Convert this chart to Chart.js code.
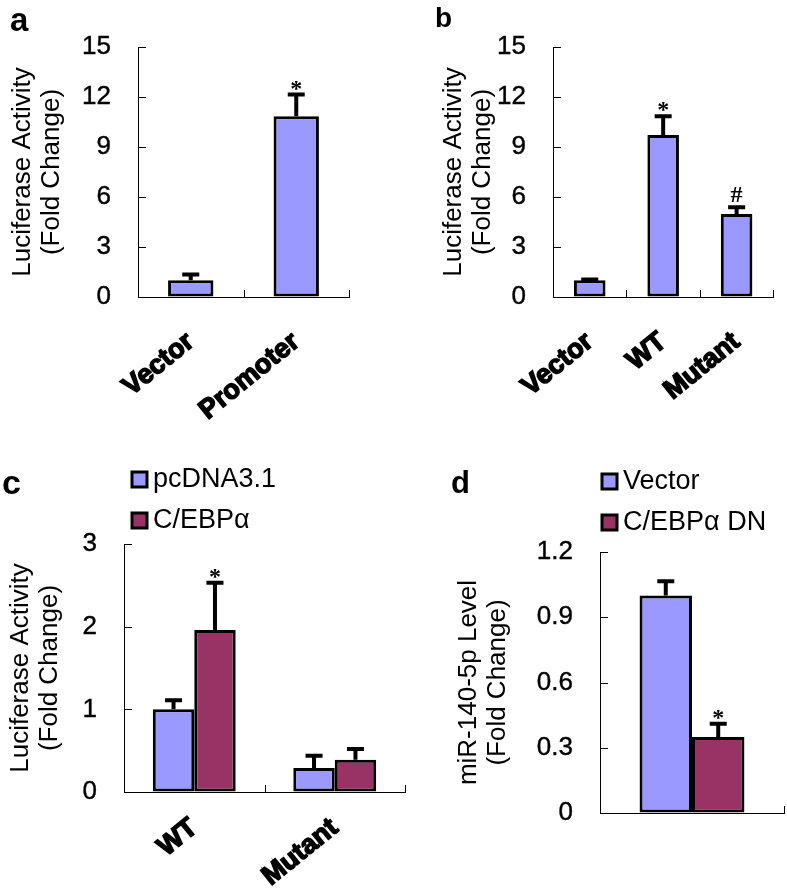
<!DOCTYPE html>
<html>
<head>
<meta charset="utf-8">
<script src="https://cdn.jsdelivr.net/npm/chart.js"></script>
<style>
  body { margin: 0; background: #fff; }
  #wrap { position: relative; width: 787px; height: 888px; }
  .panel { position: absolute; }
  .tag { position: absolute; font-family: 'Liberation Sans', Arial, sans-serif; font-weight: bold; line-height: 1; color: #000; }
</style>
</head>
<body>
<div id="wrap">
  <div class="panel" style="left:0;top:0;width:390px;height:420px"><canvas id="chartA"></canvas></div>
  <div class="panel" style="left:390px;top:0;width:397px;height:420px"><canvas id="chartB"></canvas></div>
  <div class="panel" style="left:0;top:420px;width:410px;height:468px"><canvas id="chartC"></canvas></div>
  <div class="panel" style="left:410px;top:420px;width:377px;height:468px"><canvas id="chartD"></canvas></div>
  <div class="tag" style="left:10px;top:3px;font-size:33px">a</div>
  <div class="tag" style="left:435px;top:4px;font-size:28px">b</div>
  <div class="tag" style="left:2px;top:465px;font-size:34px">c</div>
  <div class="tag" style="left:451px;top:467px;font-size:31px">d</div>
</div>
<script>
// panel a
const aCategories = ['Vector', 'Promoter'];
const aValues = [1.0, 10.85];
const aErrors = [0.35, 1.3];
const aMarks = ['', '*'];
const aTicks = ['0', '3', '6', '9', '12', '15'];

// panel b
const bCategories = ['Vector', 'WT', 'Mutant'];
const bValues = [1.0, 9.72, 4.98];
const bErrors = [0.05, 1.12, 0.4];
const bMarks = ['', '*', '#'];
const bTicks = ['0', '3', '6', '9', '12', '15'];

// panel c
const cCategories = ['WT', 'Mutant'];
const cSeries = ['pcDNA3.1', 'C/EBPα'];
const cPcdna = [1.0, 0.29];
const cPcdnaErr = [0.11, 0.15];
const cCebpa = [1.96, 0.39];
const cCebpaErr = [0.57, 0.13];
const cCebpaMarks = ['*', ''];
const cTicks = ['0', '1', '2', '3'];

// panel d
const dCategories = [''];
const dSeries = ['Vector', 'C/EBPα DN'];
const dVector = [1.0];
const dVectorErr = [0.065];
const dDn = [0.35];
const dDnErr = [0.06];
const dDnMarks = ['*'];
const dTicks = ['0', '0.3', '0.6', '0.9', '1.2'];

const blue = '#9999ff';
const plum = '#993366';
const sans = "'Liberation Sans', Arial, sans-serif";

Chart.defaults.font.family = sans;
Chart.defaults.color = '#000';

// error bars (upper half only) + significance marks
const errorBars = {
  id: 'errorBars',
  afterDatasetsDraw(chart) {
    const ctx = chart.ctx;
    const y = chart.scales.y;
    chart.data.datasets.forEach((ds, di) => {
      chart.getDatasetMeta(di).data.forEach((bar, i) => {
        const top = y.getPixelForValue(ds.data[i] + ds.errors[i]);
        ctx.save();
        ctx.strokeStyle = '#000';
        ctx.lineWidth = 4;
        ctx.beginPath();
        ctx.moveTo(bar.x, bar.y);
        ctx.lineTo(bar.x, top);
        ctx.moveTo(bar.x - 8.5, top);
        ctx.lineTo(bar.x + 8.5, top);
        ctx.stroke();
        const mark = ds.marks && ds.marks[i];
        if (mark) {
          ctx.font = 'bold 24px "Liberation Serif", "Times New Roman", serif';
          ctx.textAlign = 'center';
          ctx.textBaseline = 'alphabetic';
          ctx.fillStyle = '#000';
          const m = ctx.measureText(mark);
          ctx.fillText(mark, bar.x, top - 5 - m.actualBoundingBoxDescent);
        }
        ctx.restore();
      });
    });
  }
};

// small tick marks pointing into the plot
const innerTicks = {
  id: 'innerTicks',
  afterDraw(chart) {
    const { ctx, chartArea: area, scales: { x, y } } = chart;
    ctx.save();
    ctx.strokeStyle = '#000';
    ctx.lineWidth = 1;
    ctx.beginPath();
    y.ticks.forEach((t, i) => {
      const py = Math.round(y.getPixelForTick(i)) + 0.5;
      ctx.moveTo(area.left, py);
      ctx.lineTo(area.left + 8, py);
    });
    for (let i = 1; i <= x.ticks.length; i++) {
      const px = Math.round(x.getPixelForValue(i - 0.5)) + 0.5;
      ctx.moveTo(px, area.bottom);
      ctx.lineTo(px, area.bottom - 7);
    }
    ctx.stroke();
    ctx.restore();
  }
};

// stacked legend with boxed swatches
const boxLegend = {
  id: 'boxLegend',
  afterDraw(chart, args, opts) {
    if (opts.x === undefined) return;
    const ctx = chart.ctx;
    ctx.save();
    chart.data.datasets.forEach((ds, i) => {
      const cy = opts.y + i * opts.gap;
      ctx.fillStyle = ds.backgroundColor;
      ctx.fillRect(opts.x, cy - 7, 15, 15);
      ctx.lineWidth = 3;
      ctx.strokeStyle = '#000';
      ctx.strokeRect(opts.x, cy - 7, 15, 15);
      ctx.font = '27px ' + sans;
      ctx.fillStyle = '#000';
      ctx.textBaseline = 'middle';
      ctx.textAlign = 'left';
      ctx.fillText(ds.label, opts.x + 21, cy + 1);
    });
    ctx.restore();
  }
};

function makeBars(id, labels, datasets, tickLabels, yMax, step, opt) {
  return new Chart(document.getElementById(id), {
    type: 'bar',
    data: { labels, datasets },
    options: {
      responsive: true,
      maintainAspectRatio: false,
      animation: false,
      layout: { padding: opt.padding },
      datasets: {
        bar: {
          categoryPercentage: opt.catPct,
          barPercentage: opt.barPct,
          borderColor: '#000',
          borderWidth: 3,
          borderSkipped: false
        }
      },
      plugins: {
        legend: { display: false },
        tooltip: { enabled: false },
        boxLegend: opt.legend || {}
      },
      scales: {
        x: {
          grid: { drawOnChartArea: false, drawTicks: false },
          border: { color: '#000', width: 1 },
          ticks: {
            autoSkip: false, maxRotation: 39, minRotation: 39, padding: opt.xPad,
            color: '#000', font: { size: 27, weight: 'bold' },
            textStrokeColor: '#000', textStrokeWidth: 1.5
          },
          afterFit: s => { s.height = opt.xHeight; }
        },
        y: {
          min: 0, max: yMax,
          grid: { drawOnChartArea: false, drawTicks: false },
          border: { color: '#000', width: 1 },
          ticks: {
            stepSize: step, padding: 27, color: '#000', font: { size: 26 },
            textStrokeColor: '#000', textStrokeWidth: 0.4,
            callback: (v, i) => tickLabels[i]
          },
          title: {
            display: true, text: opt.title, color: '#000',
            font: { size: 26, lineHeight: 1.12 },
            padding: { top: opt.titlePad, bottom: 0 }
          },
          afterFit: s => { s.width = opt.yWidth; }
        }
      }
    },
    plugins: [errorBars, innerTicks, boxLegend]
  });
}

const lucTitle = ['Luciferase Activity', '(Fold Change)'];

makeBars('chartA', aCategories,
  [{ label: 'a', data: aValues, errors: aErrors, marks: aMarks, backgroundColor: blue }],
  aTicks, 15, 3,
  { padding: { top: 47, right: 41, left: 0, bottom: 0 }, yWidth: 138, xHeight: 123, xPad: 29,
    titlePad: 8, title: lucTitle, catPct: 1, barPct: 0.43 });

makeBars('chartB', bCategories,
  [{ label: 'b', data: bValues, errors: bErrors, marks: bMarks, backgroundColor: blue }],
  bTicks, 15, 3,
  { padding: { top: 47, right: 6, left: 0, bottom: 0 }, yWidth: 163, xHeight: 123, xPad: 29,
    titlePad: 49, title: lucTitle, catPct: 1, barPct: 0.43 });

makeBars('chartC', cCategories,
  [
    { label: cSeries[0], data: cPcdna, errors: cPcdnaErr, backgroundColor: blue },
    { label: cSeries[1], data: cCebpa, errors: cCebpaErr, marks: cCebpaMarks, backgroundColor: plum }
  ],
  cTicks, 3, 1,
  { padding: { top: 124, right: 5, left: 0, bottom: 0 }, yWidth: 124, xHeight: 96, xPad: 20,
    titlePad: 6, title: lucTitle, catPct: 0.59, barPct: 1,
    legend: { x: 132, y: 59, gap: 41 } });

makeBars('chartD', dCategories,
  [
    { label: dSeries[0], data: dVector, errors: dVectorErr, backgroundColor: blue },
    { label: dSeries[1], data: dDn, errors: dDnErr, marks: dDnMarks, backgroundColor: plum }
  ],
  dTicks, 1.2, 0.3,
  { padding: { top: 132, right: 3, left: 0, bottom: 0 }, yWidth: 190, xHeight: 75, xPad: 14,
    titlePad: 44, title: ['miR-140-5p Level', '(Fold Change)'], catPct: 0.57, barPct: 1,
    legend: { x: 192, y: 61, gap: 41 } });
</script>
</body>
</html>
